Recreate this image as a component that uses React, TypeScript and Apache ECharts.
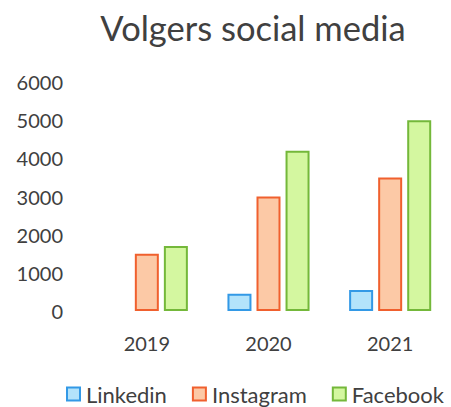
import React, { useEffect, useRef } from "react";
import * as echarts from "echarts";

const categories = ["2019", "2020", "2021"];
const linkedin = [null, 450, 550];
const instagram = [1500, 3000, 3500];
const facebook = [1700, 4200, 5000];
const yTicks = [0, 1000, 2000, 3000, 4000, 5000, 6000];

const FONT = "Lato, 'Open Sans', sans-serif";
const TXT = "#404040";

export default function App() {
  const ref = useRef<HTMLDivElement>(null);
  useEffect(() => {
    const chart = echarts.init(ref.current!, null, { renderer: "svg" });
    const mk = (name: string, data: (number | null)[], fill: string, border: string) => ({
      name,
      type: "bar",
      data,
      barWidth: 24,
      barGap: "21%",
      itemStyle: { color: fill, borderColor: border, borderWidth: 2 },
    });
    chart.setOption({
      animation: false,
      backgroundColor: "#ffffff",
      textStyle: { fontFamily: FONT },
      title: {
        text: "Volgers social media",
        left: 248,
        textAlign: "center",
        top: 5,
        textStyle: { fontFamily: FONT, fontSize: 34.5, fontWeight: "normal", color: TXT },
      },
      grid: { left: 86, right: -26, top: 82, bottom: 96 },
      xAxis: {
        type: "category",
        data: categories,
        axisLine: { show: false },
        axisTick: { show: false },
        axisLabel: { fontFamily: FONT, fontSize: 20, color: TXT, margin: 22 },
      },
      yAxis: {
        type: "value",
        min: yTicks[0],
        max: yTicks[yTicks.length - 1],
        interval: 1000,
        splitLine: { show: false },
        axisLine: { show: false },
        axisTick: { show: false },
        axisLabel: {
          fontFamily: FONT,
          fontSize: 20,
          color: TXT,
          margin: 23,
          formatter: (v: number) => String(v),
        },
      },
      legend: {
        data: ["Linkedin", "Instagram", "Facebook"],
        left: 61,
        top: 381,
        padding: [2, 5, 2, 5],
        itemWidth: 13,
        itemHeight: 13,
        itemGap: 25,
        icon: "rect",
        textStyle: { fontFamily: FONT, fontSize: 22, lineHeight: 22, color: TXT, padding: [0, 0, 0, 1] },
      },
      series: [
        mk("Linkedin", linkedin, "#b3e3fb", "#3399e6"),
        mk("Instagram", instagram, "#fcc9a6", "#f0602e"),
        mk("Facebook", facebook, "#d4f7a0", "#74b83a"),
      ],
    });
    return () => chart.dispose();
  }, []);
  return <div ref={ref} style={{ width: 451, height: 407, position: "absolute", left: 0, top: 0 }} />;
}
